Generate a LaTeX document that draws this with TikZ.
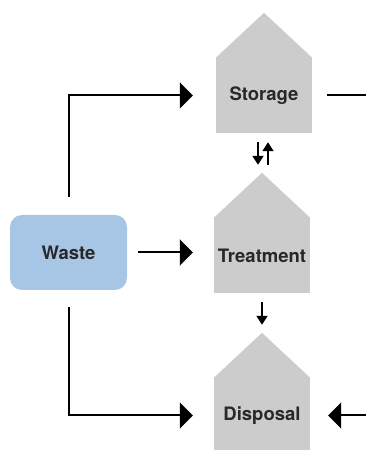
\documentclass[tikz,border=0pt]{standalone}
\usepackage{fontspec}
\setmainfont{TeX Gyre Heros}
\usetikzlibrary{arrows.meta,calc}
\definecolor{housegray}{RGB}{204,204,204}
\definecolor{wasteblue}{RGB}{167,197,228}
\definecolor{labelgray}{RGB}{40,40,40}
\begin{document}
\begin{tikzpicture}[
    x=1pt, y=1pt,
    house/.style={fill=housegray, minimum width=96, minimum height=75, inner sep=0pt,
        font=\fontsize{18.5}{21}\selectfont\bfseries, text=labelgray},
    wastebox/.style={fill=wasteblue, rounded corners=12, minimum width=117, minimum height=75,
        inner sep=0pt, font=\fontsize{18.5}{21}\selectfont\bfseries, text=labelgray},
    bigarrow/.style={line width=2, -{Triangle[length=13, width=26]}},
    smallarrow/.style={line width=1.8, -{Triangle[length=9, width=11]}}
]
\useasboundingbox (0,0) rectangle (366,450);

\node[house] (stor) at (264,354.5) {Storage};
\node[house] (treat) at (262,194.5) {Treatment};
\node[house] (disp) at (262,34.5) {Disposal};
\node[wastebox] (waste) at (68.5,197.5) {Waste};

% roofs
\foreach \n in {stor,treat,disp} {
    \coordinate (\n-top) at ($(\n.north)+(0,45)$);
    \fill[housegray] (\n.north west) -- (\n-top) -- (\n.north east) -- cycle;
}

% lines leaving the picture on the right
\coordinate (storout) at (372,354.5);
\coordinate (dispin) at (372,34.5);

\draw[bigarrow] ([yshift=18]waste.north) |- ([xshift=-23]stor.west);
\draw[bigarrow, shorten <=11, shorten >=21] (waste.east) -- (waste -| treat.west);
\draw[bigarrow] ([yshift=-17]waste.south) |- ([xshift=-21]disp.west);
\draw[line width=2] ([xshift=15]stor.east) -- (storout);
\draw[bigarrow] (dispin) -- ([xshift=18]disp.east);

\draw[smallarrow, shorten <=9, shorten >=8] ([xshift=-6]stor.south) -- ([xshift=-6]stor.south |- treat-top);
\draw[smallarrow, shorten <=8, shorten >=9] ([xshift=4]stor.south |- treat-top) -- ([xshift=4]stor.south);
\draw[smallarrow, shorten <=9, shorten >=8] (treat.south) -- (disp-top);
\end{tikzpicture}
\end{document}
